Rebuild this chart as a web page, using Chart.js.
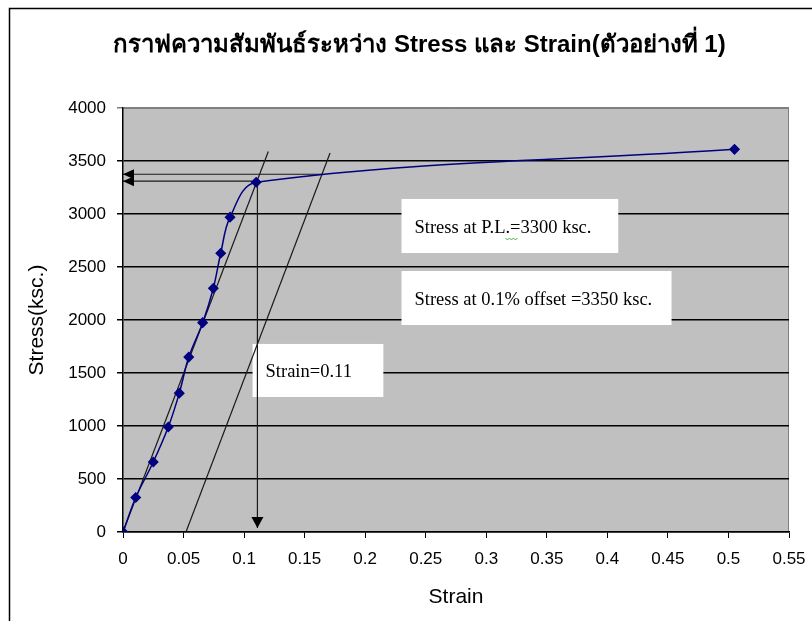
<!DOCTYPE html>
<html>
<head>
<meta charset="utf-8">
<script src="https://cdn.jsdelivr.net/npm/chart.js@4/dist/chart.umd.min.js"></script>
<style>
  html, body { margin: 0; padding: 0; background: #fff; }
  #wrap { width: 812px; height: 621px; }
</style>
</head>
<body>
<div id="wrap"><canvas id="stress"></canvas></div>
<script>
// test results
const strain = [0, 0.0105, 0.025, 0.0374, 0.0465, 0.0543, 0.0658, 0.0746, 0.0807, 0.0884, 0.11, 0.505];
const stress = [0, 325, 660, 990, 1310, 1650, 1975, 2300, 2630, 2970, 3300, 3610];

// construction lines
const elasticX = [0, 0.12];
const elasticY = [0, 3590];
const offsetX = [0.052, 0.171];
const offsetY = [0, 3575];
const plArrowX = [0.11, 0];
const plArrowY = [3310, 3310];
const yieldArrowX = [0.165, 0];
const yieldArrowY = [3375, 3375];
const strainArrowX = [0.111, 0.111];
const strainArrowY = [3300, 38];

const xTicks = [0, 0.05, 0.1, 0.15, 0.2, 0.25, 0.3, 0.35, 0.4, 0.45, 0.5, 0.55];
const yTicks = [0, 500, 1000, 1500, 2000, 2500, 3000, 3500, 4000];

// note boxes: [x0, x1, yTop, yBottom] in data units
const notes = [
    { text: 'Stress at P.L.=3300 ksc.', box: [0.23, 0.409, 3142, 2632], squiggle: 'Stress at P.L' },
    { text: 'Stress at 0.1% offset =3350 ksc.', box: [0.23, 0.453, 2462, 1953] },
    { text: 'Strain=0.11', box: [0.107, 0.215, 1774, 1274] }
];

function pts(xs, ys) {
    return xs.map((x, i) => ({ x: x, y: ys[i] }));
}

function blackLine(xs, ys) {
    return {
        data: pts(xs, ys),
        borderColor: '#1a1a1a',
        borderWidth: 1.2,
        pointRadius: 0,
        showLine: true,
        tension: 0,
        order: 2
    };
}

function arrowHead(ctx, x, y, dir) {
    const len = 11, half = 5;
    ctx.beginPath();
    if (dir === 'left') {
        ctx.moveTo(x, y);
        ctx.lineTo(x + len, y - half);
        ctx.lineTo(x + len, y + half);
    } else {
        ctx.moveTo(x, y);
        ctx.lineTo(x - half - 1, y - len);
        ctx.lineTo(x + half + 1, y - len);
    }
    ctx.closePath();
    ctx.fill();
}

const decor = {
    id: 'decor',
    beforeDraw(chart) {
        const { ctx, chartArea: a } = chart;
        ctx.save();
        ctx.fillStyle = '#fff';
        ctx.fillRect(0, 0, chart.width, chart.height);
        ctx.fillStyle = '#c0c0c0';
        ctx.fillRect(a.left, a.top, a.right - a.left, a.bottom - a.top);
        ctx.strokeStyle = '#808080';
        ctx.lineWidth = 1;
        ctx.beginPath();
        ctx.moveTo(a.left, a.top + 0.5);
        ctx.lineTo(a.right - 0.5, a.top + 0.5);
        ctx.lineTo(a.right - 0.5, a.bottom);
        ctx.stroke();
        ctx.restore();
    },
    beforeDatasetsDraw(chart) {
        const { ctx, scales: { x, y } } = chart;
        ctx.save();
        ctx.font = '18.5px "Liberation Serif", serif';
        ctx.textBaseline = 'middle';
        notes.forEach(n => {
            const l = x.getPixelForValue(n.box[0]);
            const r = x.getPixelForValue(n.box[1]);
            const t = y.getPixelForValue(n.box[2]);
            const b = y.getPixelForValue(n.box[3]);
            ctx.fillStyle = '#fff';
            ctx.fillRect(l, t, r - l, b - t);
            ctx.fillStyle = '#000';
            ctx.fillText(n.text, l + 13, (t + b) / 2 + 2);
            if (n.squiggle) {
                const sx = l + 13 + ctx.measureText(n.squiggle).width;
                const sy = (t + b) / 2 + 12;
                ctx.strokeStyle = '#3cb043';
                ctx.lineWidth = 1;
                ctx.beginPath();
                ctx.moveTo(sx, sy);
                for (let i = 1; i <= 6; i++) ctx.lineTo(sx + i * 2, sy + (i % 2 ? 2 : 0));
                ctx.stroke();
            }
        });
        ctx.restore();
    },
    afterDatasetsDraw(chart) {
        const { ctx, scales: { x, y } } = chart;
        ctx.save();
        ctx.fillStyle = '#000';
        arrowHead(ctx, x.getPixelForValue(plArrowX[1]), y.getPixelForValue(plArrowY[1]), 'left');
        arrowHead(ctx, x.getPixelForValue(yieldArrowX[1]), y.getPixelForValue(yieldArrowY[1]), 'left');
        arrowHead(ctx, x.getPixelForValue(strainArrowX[1]), y.getPixelForValue(strainArrowY[1]), 'down');
        ctx.restore();
    },
    afterDraw(chart) {
        const ctx = chart.ctx;
        ctx.save();
        ctx.strokeStyle = '#000';
        ctx.lineWidth = 1.5;
        ctx.strokeRect(9.5, 8.5, chart.width + 20, chart.height + 20);
        ctx.restore();
    }
};

new Chart(document.getElementById('stress'), {
    type: 'scatter',
    data: {
        datasets: [
            {
                label: 'Stress-Strain',
                data: pts(strain, stress),
                borderColor: '#000080',
                backgroundColor: '#000080',
                borderWidth: 1.5,
                pointStyle: 'rectRot',
                pointRadius: 4.5,
                pointHoverRadius: 4.5,
                showLine: true,
                tension: 0.35,
                order: 0
            },
            blackLine(elasticX, elasticY),
            blackLine(offsetX, offsetY),
            blackLine(plArrowX, plArrowY),
            blackLine(yieldArrowX, yieldArrowY),
            blackLine(strainArrowX, strainArrowY)
        ]
    },
    options: {
        responsive: true,
        maintainAspectRatio: false,
        animation: false,
        events: [],
        layout: { padding: { left: 50, right: 23, top: 0, bottom: 0 } },
        plugins: {
            legend: { display: false },
            tooltip: { enabled: false },
            title: {
                display: true,
                text: 'กราฟความสัมพันธ์ระหว่าง Stress และ Strain(ตัวอย่างที่ 1)',
                color: '#000',
                font: { family: '"Liberation Sans", Arial, sans-serif', size: 24, weight: 'bold' },
                padding: { top: 30.6, bottom: 48.6 }
            }
        },
        scales: {
            x: {
                type: 'linear',
                min: 0,
                max: 0.55,
                afterBuildTicks(scale) { scale.ticks = xTicks.map(v => ({ value: v })); },
                afterFit(scale) {
                    scale.height = 89;
                    scale.paddingRight = 0;
                    scale.paddingLeft = 0;
                },
                ticks: {
                    color: '#000',
                    padding: 11,
                    maxRotation: 0,
                    autoSkip: false,
                    font: { family: '"Liberation Sans", Arial, sans-serif', size: 17 },
                    callback: v => String(v)
                },
                grid: { drawOnChartArea: false, color: '#000', tickLength: 6 },
                border: { color: '#000', width: 1.5 },
                title: {
                    display: true,
                    text: 'Strain',
                    color: '#000',
                    font: { family: '"Liberation Sans", Arial, sans-serif', size: 21 },
                    padding: { top: 0, bottom: 11 }
                }
            },
            y: {
                type: 'linear',
                min: 0,
                max: 4000,
                afterBuildTicks(scale) { scale.ticks = yTicks.map(v => ({ value: v })); },
                afterFit(scale) { scale.width = 73; },
                ticks: {
                    color: '#000',
                    padding: 11,
                    font: { family: '"Liberation Sans", Arial, sans-serif', size: 17 },
                    callback: v => String(v)
                },
                grid: {
                    color: c => (c.tick && c.tick.value === 4000 ? '#808080' : '#000'),
                    lineWidth: 1.5,
                    tickLength: 6
                },
                border: { color: '#000', width: 1.5 },
                title: {
                    display: true,
                    text: 'Stress(ksc.)',
                    color: '#000',
                    font: { family: '"Liberation Sans", Arial, sans-serif', size: 21 },
                    padding: { top: -25.6, bottom: 0 }
                }
            }
        }
    },
    plugins: [decor]
});
</script>
</body>
</html>
